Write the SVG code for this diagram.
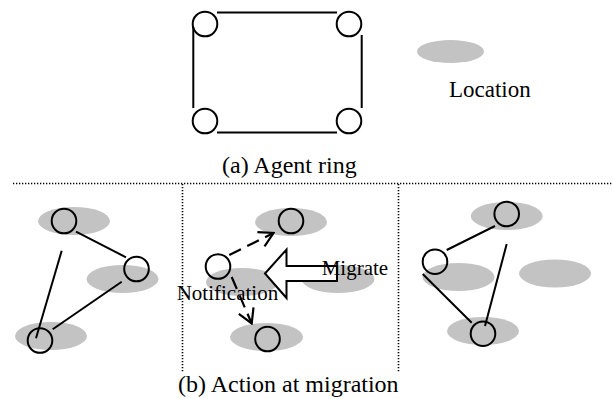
<svg xmlns="http://www.w3.org/2000/svg" width="613" height="399" viewBox="0 0 613 399">
  <style>
    .agent { fill: none; stroke: #000; stroke-width: 2; }
    .loc { fill: #c3c3c3; stroke: none; }
    .link { stroke: #000; stroke-width: 2; fill: none; }
    .dash { stroke: #000; stroke-width: 2.2; fill: none; stroke-dasharray: 13 7; }
    .sep { stroke: #000; stroke-width: 1.6; stroke-dasharray: 1.3 1.7; fill: none; }
    .big { fill: #fff; stroke: #000; stroke-width: 2; stroke-linejoin: miter; }
    text { font-family: "Liberation Serif", "Times New Roman", serif; fill: #000; }
    .cap { font-size: 24px; }
    .lbl { font-size: 21px; }
  </style>
  <defs>
    <marker id="open" viewBox="-16 -10 18 20" refX="0" refY="0" markerWidth="18" markerHeight="20" markerUnits="userSpaceOnUse" orient="auto">
      <path d="M-14,-8 L0,0 L-14,8" fill="none" stroke="#000" stroke-width="2.2"/>
    </marker>
  </defs>

  <rect width="613" height="399" fill="#fff"/>

  <!-- panel separators -->
  <g id="separators">
    <line class="sep" x1="13" y1="183.5" x2="613" y2="183.5"/>
    <line class="sep" x1="182.5" y1="184" x2="182.5" y2="372"/>
    <line class="sep" x1="398.5" y1="184" x2="398.5" y2="372"/>
  </g>

  <!-- (a) agent ring -->
  <g id="ring-links">
    <line class="link" x1="217" y1="12.5" x2="337" y2="12.5"/>
    <line class="link" x1="217" y1="132.5" x2="337" y2="132.5"/>
    <line class="link" x1="193.3" y1="27" x2="193.3" y2="108"/>
    <line class="link" x1="361.7" y1="35" x2="361.7" y2="108"/>
  </g>
  <g id="ring-a1"><circle class="agent" cx="205" cy="24" r="12.3"/></g>
  <g id="ring-a2"><circle class="agent" cx="349" cy="24" r="12.3"/></g>
  <g id="ring-a3"><circle class="agent" cx="205" cy="121" r="12.3"/></g>
  <g id="ring-a4"><circle class="agent" cx="349" cy="121" r="12.3"/></g>
  <g id="legend-location">
    <ellipse class="loc" cx="450.5" cy="51.5" rx="33.5" ry="11.5"/>
    <text class="cap" x="449" y="96.5" style="font-size:23px">Location</text>
  </g>
  <text id="caption-a" class="cap" x="222" y="173">(a) Agent ring</text>

  <!-- (b) locations -->
  <g id="locations">
    <ellipse id="loc-l1" class="loc" cx="74" cy="221" rx="36" ry="14"/>
    <ellipse id="loc-l2" class="loc" cx="122.5" cy="279" rx="36" ry="14"/>
    <ellipse id="loc-l3" class="loc" cx="51" cy="336" rx="36" ry="14"/>
    <ellipse id="loc-m1" class="loc" cx="291" cy="222" rx="36" ry="14"/>
    <ellipse id="loc-m2" class="loc" cx="242" cy="282" rx="36" ry="14"/>
    <ellipse id="loc-m3" class="loc" cx="338" cy="279" rx="36.5" ry="14"/>
    <ellipse id="loc-m4" class="loc" cx="266.5" cy="337" rx="36.5" ry="14"/>
    <ellipse id="loc-r1" class="loc" cx="506.7" cy="216" rx="36" ry="14"/>
    <ellipse id="loc-r2" class="loc" cx="458.5" cy="277" rx="36" ry="14"/>
    <ellipse id="loc-r3" class="loc" cx="555" cy="273.5" rx="36" ry="14"/>
    <ellipse id="loc-r4" class="loc" cx="483" cy="331" rx="36" ry="14"/>
  </g>

  <!-- connectors -->
  <g id="connectors">
    <line class="link" x1="76" y1="231.7" x2="126" y2="257.3"/>
    <line class="link" x1="121.7" y1="281.7" x2="52.7" y2="329.3"/>
    <line class="link" x1="61.7" y1="250.7" x2="36" y2="338.3"/>
    <line class="dash" x1="229.3" y1="255" x2="273.5" y2="233" marker-end="url(#open)"/>
    <line class="dash" x1="231.7" y1="277" x2="251.7" y2="323.5" marker-end="url(#open)"/>
    <polygon class="big" points="265,273.5 286.5,249.5 286.5,266 337,266 337,281 286.5,281 286.5,298"/>
    <line class="link" x1="495" y1="226" x2="446.7" y2="250"/>
    <line class="link" x1="422.7" y1="274" x2="471.7" y2="322.7"/>
    <line class="link" x1="506.7" y1="244" x2="485" y2="326"/>
  </g>

  <!-- (b) agents -->
  <g id="agent-l1"><circle class="agent" cx="64" cy="221" r="12.3"/></g>
  <g id="agent-l2"><circle class="agent" cx="136.5" cy="269" r="12.3"/></g>
  <g id="agent-l3"><circle class="agent" cx="40" cy="340.5" r="12.3"/></g>
  <g id="agent-m1"><circle class="agent" cx="291" cy="221" r="12.3"/></g>
  <g id="agent-m2"><circle class="agent" cx="218" cy="266.5" r="12.3"/></g>
  <g id="agent-m3"><circle class="agent" cx="267.5" cy="339" r="12.3"/></g>
  <g id="agent-r1"><circle class="agent" cx="506.7" cy="214" r="12.3"/></g>
  <g id="agent-r2"><circle class="agent" cx="435" cy="261.7" r="12.3"/></g>
  <g id="agent-r3"><circle class="agent" cx="483" cy="333.7" r="12.3"/></g>

  <text id="label-migrate" class="lbl" x="321.7" y="275">Migrate</text>
  <text id="label-notification" class="lbl" x="176.7" y="300">Notification</text>
  <text id="caption-b" class="cap" x="178" y="391.5">(b) Action at migration</text>
</svg>
